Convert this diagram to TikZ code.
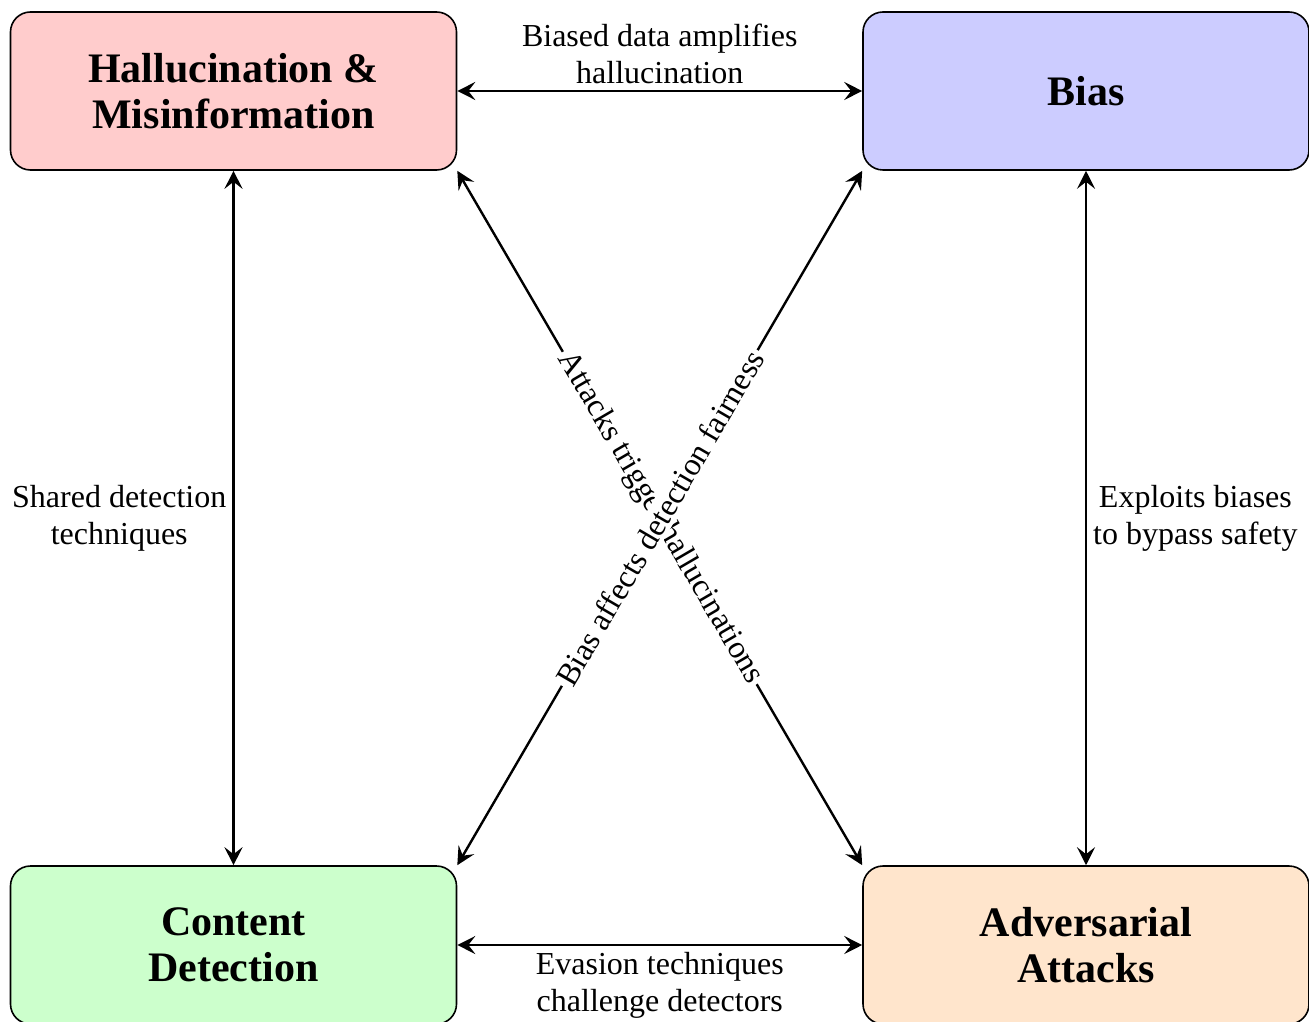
\documentclass[tikz,border=0pt]{standalone}
\usepackage{fontspec}
\setmainfont{Liberation Serif}
\usetikzlibrary{arrows.meta}
\begin{document}
\begin{tikzpicture}[x=0.5pt,y=-0.5pt,
  box/.style={draw, line width=0.8pt, rounded corners=10pt, minimum width=223pt, minimum height=79pt, align=center, font=\fontsize{21}{23}\selectfont\bfseries, inner sep=0pt},
  tip/.style={Stealth[length=9pt,width=9pt,inset=3.5pt]},
  link/.style={line width=1.2pt, {Stealth[length=9pt,width=9pt,inset=3.5pt]}-{Stealth[length=9pt,width=9pt,inset=3.5pt]}},
  lbl/.style={font=\fontsize{16}{18.5}\selectfont, align=center, inner sep=3pt},
  dlbl/.style={font=\fontsize{16}{18.5}\selectfont, sloped, fill=white, inner sep=1.5pt}]
\useasboundingbox (0,0) rectangle (1309,1021);
\node[box, fill=red!20] (hm) at (233.5,91) {Hallucination \&\\Misinformation};
\node[box, fill=blue!20] (bias) at (1086,91) {Bias};
\node[box, fill=green!20] (cd) at (233.5,945) {Content\\Detection};
\node[box, fill=orange!20] (aa) at (1086,945) {Adversarial\\Attacks};
\draw[link] (hm.east) -- node[lbl, above] {Biased data amplifies\\hallucination} (bias.west);
\draw[link] (cd.east) -- node[lbl, below] {Evasion techniques\\challenge detectors} (aa.west);
\draw[link] (hm.south) -- node[lbl, left] {Shared detection\\techniques} (cd.north);
\draw[link] (bias.south) -- node[lbl, right] {Exploits biases\\to bypass safety} (aa.north);
\draw[link] (hm.south east) -- node[dlbl] {Attacks trigger hallucinations} (aa.north west);
\draw[link] (cd.north east) -- node[dlbl] {Bias affects detection fairness} (bias.south west);
\end{tikzpicture}
\end{document}
